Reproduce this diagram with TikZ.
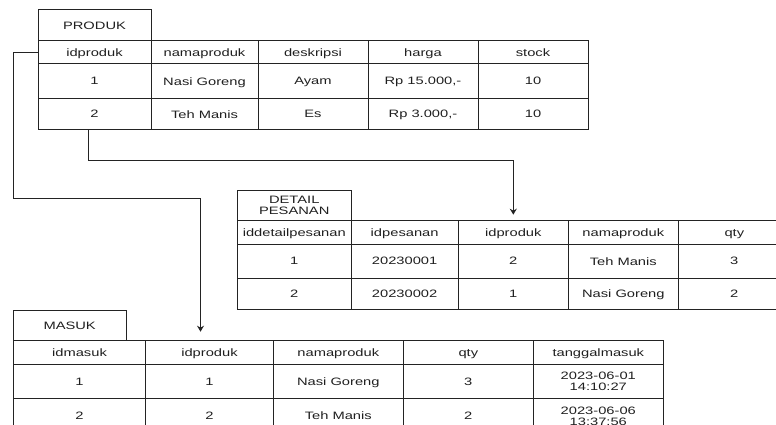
\documentclass[tikz,border=0pt]{standalone}
\usepackage{fontspec}
\usepackage{tikz}
\usetikzlibrary{arrows.meta}
\usetikzlibrary{calc}
\usepackage{xcolor}
\newfontfamily\tablefont{Liberation Sans}
\definecolor{myblack}{HTML}{232323}
\definecolor{mytext}{HTML}{1F1F1F}
\newcommand{\tx}[1]{\raisebox{0pt}[\dimexpr\height+3.4pt\relax][\depth]{\scalebox{1}[0.73]{\begin{tabular}{@{}c@{}}#1\end{tabular}}}}
\tikzstyle{cell} = [draw=myblack, line width=1pt, inner sep=0pt, outer sep=0pt, text=mytext, font={\tablefont\fontsize{14.7}{14.7}\selectfont}]
\tikzstyle{ln} = [draw=myblack, line width=1pt, -{Stealth[length=6pt,width=7pt]}]

\begin{document}
\begin{tikzpicture}[x=1pt, y=-1pt]
  \useasboundingbox (0,0) rectangle (776,425);
  \clip (0,0) rectangle (776,425);
  % PRODUK
  \node[cell, minimum width=113, minimum height=30.7] (p-t) at (94.5,25.3) {\tx{PRODUK}};
  \foreach \x/\w/\t [count=\i] in {38/113/idproduk, 151/107/namaproduk, 258/110/deskripsi, 368/110/harga, 478/110/stock}
    \node[cell, minimum width=\w, minimum height=23.3] (p-h\i) at (\x+\w/2, 52.3) {\tx{\t}};
  \foreach \x/\w/\t [count=\i] in {38/113/1, 151/107/Nasi Goreng, 258/110/Ayam, 368/110/{Rp 15.000,-}, 478/110/10}
    \node[cell, minimum width=\w, minimum height=34.3] (p-1\i) at (\x+\w/2, 81.15) {\tx{\t}};
  \foreach \x/\w/\t [count=\i] in {38/113/2, 151/107/Teh Manis, 258/110/Es, 368/110/{Rp 3.000,-}, 478/110/10}
    \node[cell, minimum width=\w, minimum height=31.7] (p-2\i) at (\x+\w/2, 114.15) {\tx{\t}};
  % DETAIL PESANAN
  \node[cell, minimum width=113.5, minimum height=30.7] (d-t) at (294.25,205.35) {\tx{DETAIL\\PESANAN}};
  \foreach \x/\w/\t [count=\i] in {237.5/113.5/iddetailpesanan, 351/107.3/idpesanan, 458.3/110/idproduk, 568.3/110/namaproduk, 678.3/112/qty}
    \node[cell, minimum width=\w, minimum height=23.3] (d-h\i) at (\x+\w/2, 232.35) {\tx{\t}};
  \foreach \x/\w/\t [count=\i] in {237.5/113.5/1, 351/107.3/20230001, 458.3/110/2, 568.3/110/Teh Manis, 678.3/112/3}
    \node[cell, minimum width=\w, minimum height=34.3] (d-1\i) at (\x+\w/2, 261.15) {\tx{\t}};
  \foreach \x/\w/\t [count=\i] in {237.5/113.5/2, 351/107.3/20230002, 458.3/110/1, 568.3/110/Nasi Goreng, 678.3/112/2}
    \node[cell, minimum width=\w, minimum height=31] (d-2\i) at (\x+\w/2, 293.8) {\tx{\t}};
  % MASUK
  \node[cell, minimum width=112.7, minimum height=30.7] (m-t) at (69.65,325.35) {\tx{MASUK}};
  \foreach \x/\w/\t [count=\i] in {13.3/132.4/idmasuk, 145.7/127.6/idproduk, 273.3/130/namaproduk, 403.3/130/qty, 533.3/130/tanggalmasuk}
    \node[cell, minimum width=\w, minimum height=23.6] (m-h\i) at (\x+\w/2, 352.5) {\tx{\t}};
  \foreach \x/\w/\t [count=\i] in {13.3/132.4/1, 145.7/127.6/1, 273.3/130/Nasi Goreng, 403.3/130/3, 533.3/130/{2023-06-01\\14:10:27}}
    \node[cell, minimum width=\w, minimum height=34.4] (m-1\i) at (\x+\w/2, 381.5) {\tx{\t}};
  \foreach \x/\w/\t [count=\i] in {13.3/132.4/2, 145.7/127.6/2, 273.3/130/Teh Manis, 403.3/130/2, 533.3/130/{2023-06-06\\13:37:56}}
    \node[cell, minimum width=\w, minimum height=34.6] (m-2\i) at (\x+\w/2, 416) {\tx{\t}};
  % relations
  \coordinate (dtip) at ([yshift=6pt]d-h3.north);
  \coordinate (mtip) at ([xshift=-9pt,yshift=9pt]m-h2.north);
  \path[ln] ([xshift=-6pt]p-21.south) -- ++(0,30) -| (dtip);
  \path[ln] (p-h1.west) -- ++(-24.7,0) -- ++(0,146) -| (mtip);
\end{tikzpicture}
\end{document}
